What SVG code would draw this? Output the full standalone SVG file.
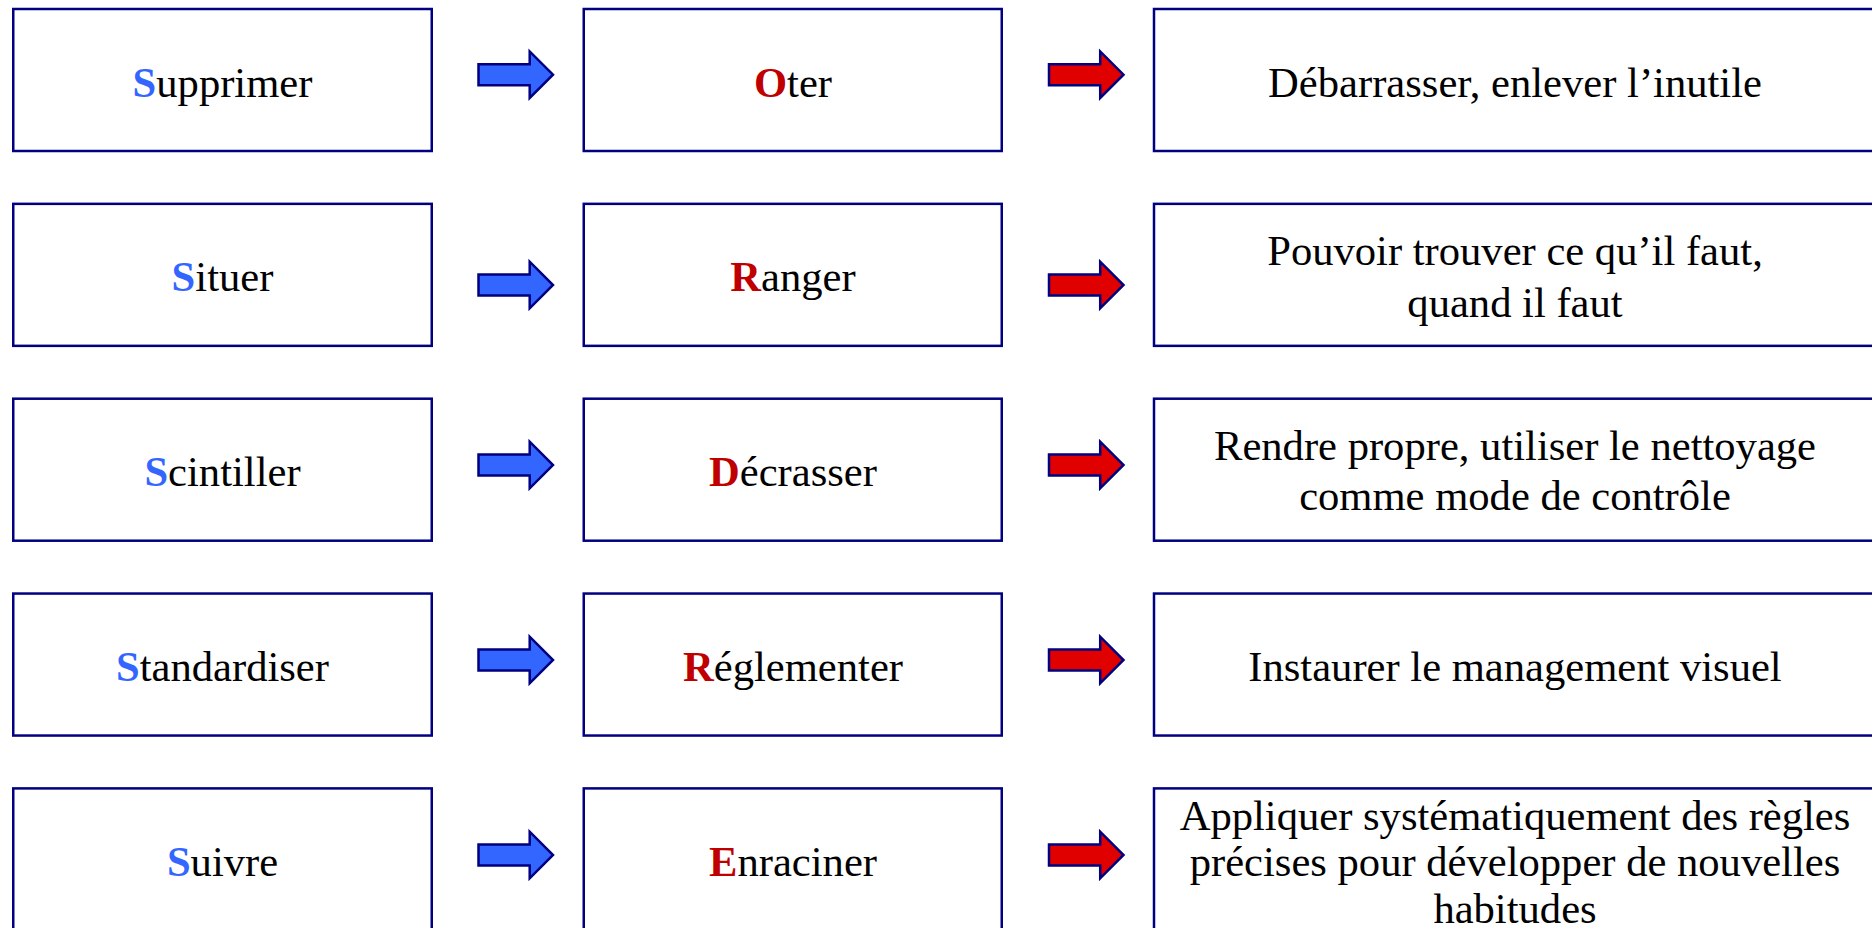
<svg xmlns="http://www.w3.org/2000/svg" width="1872" height="928" viewBox="0 0 1872 928">
<style>
.box{fill:#ffffff;stroke:#000080;stroke-width:2.5}
.t{font-family:"Liberation Serif","Times New Roman",serif;font-size:42.6px;fill:#000000;text-anchor:middle}
.sb{font-weight:bold;fill:#3366FF}
.rb{font-weight:bold;fill:#C00000}
.ab{fill:#3366FF;stroke:#000080;stroke-width:2.5;stroke-linejoin:miter}
.ar{fill:#E00000;stroke:#000080;stroke-width:2.5;stroke-linejoin:miter}
</style>
<defs>
<path id="arr" d="M0,-10.5 H51.2 V-23.3 L74.5,0 L51.2,23.3 V10.5 H0 Z"/>
</defs>
<rect x="0" y="0" width="1872" height="928" fill="#ffffff"/>

<g id="connectors">
<use href="#arr" class="ab" x="478.5" y="74.7"/>
<use href="#arr" class="ab" x="478.5" y="285"/>
<use href="#arr" class="ab" x="478.5" y="465"/>
<use href="#arr" class="ab" x="478.5" y="660"/>
<use href="#arr" class="ab" x="478.5" y="855"/>
<use href="#arr" class="ar" x="1049" y="74.7"/>
<use href="#arr" class="ar" x="1049" y="285"/>
<use href="#arr" class="ar" x="1049" y="465"/>
<use href="#arr" class="ar" x="1049" y="660"/>
<use href="#arr" class="ar" x="1049" y="855"/>
</g>

<g id="n-supprimer"><rect class="box" x="13.25" y="9" width="418.5" height="142"/><text class="t" x="222.5" y="96.6"><tspan class="sb">S</tspan>upprimer</text></g>
<g id="n-oter"><rect class="box" x="583.75" y="9" width="418" height="142"/><text class="t" x="793" y="96.6"><tspan class="rb">O</tspan>ter</text></g>
<g id="n-debarrasser"><rect class="box" x="1154" y="9" width="730" height="142"/><text class="t" x="1515" y="96.6">Débarrasser, enlever l’inutile</text></g>

<g id="n-situer"><rect class="box" x="13.25" y="203.85" width="418.5" height="142"/><text class="t" x="222.5" y="291.45"><tspan class="sb">S</tspan>ituer</text></g>
<g id="n-ranger"><rect class="box" x="583.75" y="203.85" width="418" height="142"/><text class="t" x="793" y="291.45"><tspan class="rb">R</tspan>anger</text></g>
<g id="n-pouvoir"><rect class="box" x="1154" y="203.85" width="730" height="142"/><text class="t" x="1515" y="265">Pouvoir trouver ce qu’il faut,</text><text class="t" x="1515" y="316.5">quand il faut</text></g>

<g id="n-scintiller"><rect class="box" x="13.25" y="398.7" width="418.5" height="142"/><text class="t" x="222.5" y="486.3"><tspan class="sb">S</tspan>cintiller</text></g>
<g id="n-decrasser"><rect class="box" x="583.75" y="398.7" width="418" height="142"/><text class="t" x="793" y="486.3"><tspan class="rb">D</tspan>écrasser</text></g>
<g id="n-rendre"><rect class="box" x="1154" y="398.7" width="730" height="142"/><text class="t" x="1515" y="460">Rendre propre, utiliser le nettoyage</text><text class="t" x="1515" y="510">comme mode de contrôle</text></g>

<g id="n-standardiser"><rect class="box" x="13.25" y="593.55" width="418.5" height="142"/><text class="t" x="222.5" y="681.15"><tspan class="sb">S</tspan>tandardiser</text></g>
<g id="n-reglementer"><rect class="box" x="583.75" y="593.55" width="418" height="142"/><text class="t" x="793" y="681.15"><tspan class="rb">R</tspan>églementer</text></g>
<g id="n-instaurer"><rect class="box" x="1154" y="593.55" width="730" height="142"/><text class="t" x="1515" y="681.15">Instaurer le management visuel</text></g>

<g id="n-suivre"><rect class="box" x="13.25" y="788.4" width="418.5" height="142"/><text class="t" x="222.5" y="876"><tspan class="sb">S</tspan>uivre</text></g>
<g id="n-enraciner"><rect class="box" x="583.75" y="788.4" width="418" height="142"/><text class="t" x="793" y="876"><tspan class="rb">E</tspan>nraciner</text></g>
<g id="n-appliquer"><rect class="box" x="1154" y="788.4" width="730" height="142"/><text class="t" x="1515" y="829.7">Appliquer systématiquement des règles</text><text class="t" x="1515" y="876.3">précises pour développer de nouvelles</text><text class="t" x="1515" y="923">habitudes</text></g>
</svg>
